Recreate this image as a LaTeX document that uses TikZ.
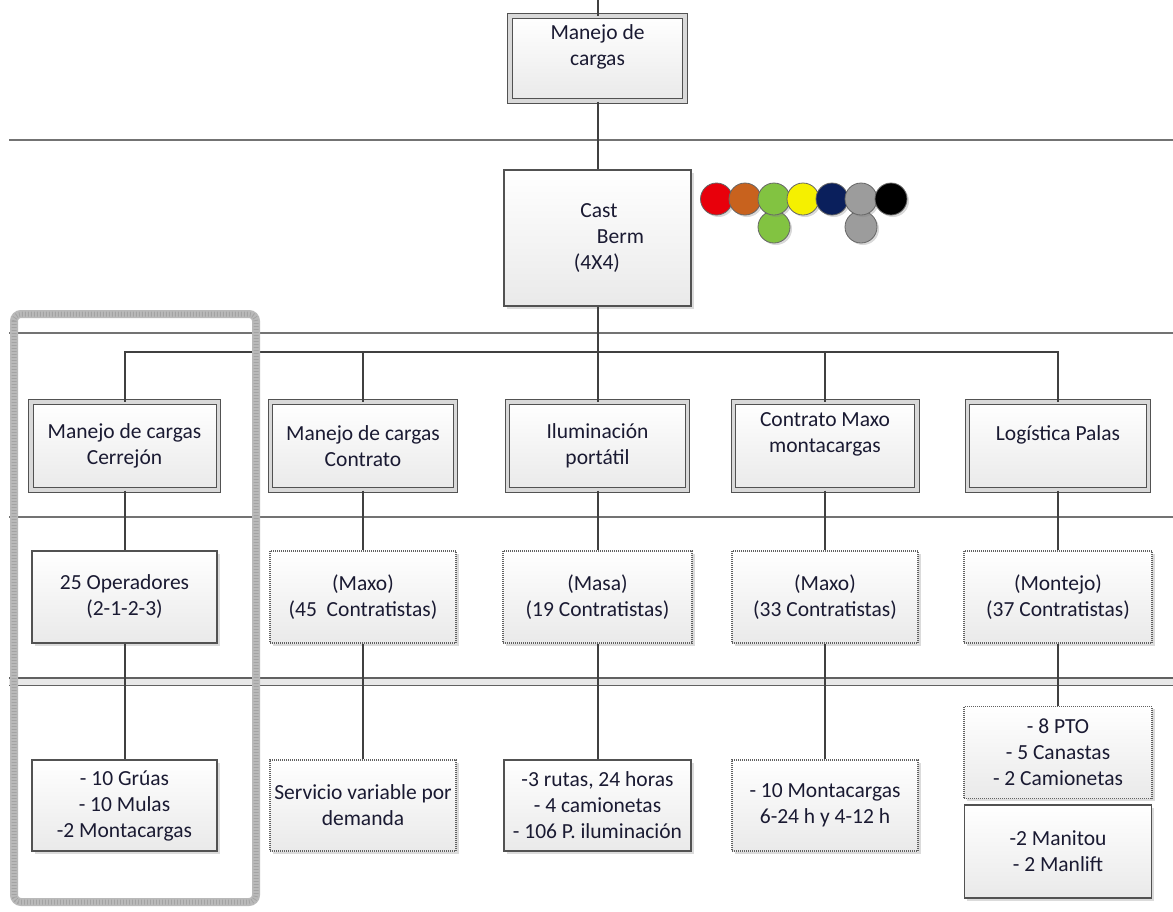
\documentclass[tikz,border=0pt]{standalone}
\usepackage{fontspec}
\setmainfont{Carlito}
\usetikzlibrary{shadows}
\definecolor{txt}{HTML}{1A1A32}
\definecolor{cred}{HTML}{E8000B}
\definecolor{corange}{HTML}{C8621E}
\definecolor{cgreen}{HTML}{82C341}
\definecolor{cyellow}{HTML}{F5F000}
\definecolor{cnavy}{HTML}{0A1F5C}
\definecolor{cgray}{HTML}{9C9C9C}
\begin{document}
\begin{tikzpicture}[x=1pt,y=-1pt,
  font=\fontsize{21.5}{26}\selectfont,
  box/.style={rectangle, align=center, text=txt, inner sep=0pt,
    top color=white, bottom color=gray!17,
    drop shadow={shadow xshift=2.5pt, shadow yshift=-2.5pt, opacity=0.35, fill=gray!80}},
  dbox/.style={box, draw=black!68, line width=1pt, double=gray!30, double distance=3.5pt},
  sbox/.style={box, draw=black!68, line width=1.4pt},
  obox/.style={box, draw=black!62, line width=1.2pt, dash pattern=on 1pt off 1pt},
  conn/.style={draw=black!75, line width=2pt},
  rule/.style={draw=black!55, line width=1.5pt},
  circ/.style={circle, draw=black!60, line width=0.8pt, minimum size=32pt, inner sep=0pt,
    drop shadow={shadow xshift=2pt, shadow yshift=-2pt, opacity=0.3, fill=gray}},
]
\useasboundingbox (0,0) rectangle (1173,911);

% horizontal level rules
\draw[rule] (9,140) -- (1173,140);
\draw[rule] (9,333) -- (1173,333);
\draw[rule] (9,517) -- (1173,517);
\draw[draw=black!62, line width=1.4pt, double=gray!18, double distance=6pt] (9,681.5) -- (1173,681.5);

% top of the tree
\node[dbox, minimum width=175pt, minimum height=85pt] (m0) at (597.5,58.5) {Manejo de\\cargas\\\mbox{}};
\node[sbox, minimum width=187pt, minimum height=136pt, align=left] (cb) at (597.5,238)
  {\hspace*{29.5pt}Cast\\\hspace*{46pt}Berm\\\hspace*{23pt}(4X4)};

% shift colour markers
\node[circ, fill=cgreen] (g2) at (774,227) {};
\node[circ, fill=cgray]  (s2) at (861,227) {};
\node[circ, fill=cred]    (c1) at (716.5,199) {};
\node[circ, fill=corange] (c2) at (745,199) {};
\node[circ, fill=cgreen]  (c3) at (774,199) {};
\node[circ, fill=cyellow] (c4) at (803,199) {};
\node[circ, fill=cnavy]   (c5) at (832,199) {};
\node[circ, fill=cgray]   (c6) at (861,199) {};
\node[circ, fill=black]   (c7) at (891,199) {};

% second level
\node[dbox, minimum width=187.5pt, minimum height=88pt] (l2a) at (124.5,446) {Manejo de cargas\\Cerrejón};
\node[dbox, minimum width=185pt, minimum height=88pt] (l2b) at (363,446) {Manejo de cargas\\Contrato};
\node[dbox, minimum width=180pt, minimum height=88pt] (l2c) at (597.5,446) {Iluminación\\portátil};
\node[dbox, minimum width=183.5pt, minimum height=88pt] (l2d) at (825,446) {Contrato Maxo\\montacargas\\\mbox{}};
\node[dbox, minimum width=181pt, minimum height=88pt] (l2e) at (1058,446) {Logística Palas\\\mbox{}};

% third level
\node[sbox, minimum width=185pt, minimum height=92pt] (l3a) at (124.5,597) {25 Operadores\\(2-1-2-3)};
\node[obox, minimum width=186pt, minimum height=92pt] (l3b) at (363,597) {(Maxo)\\(45\ \ Contratistas)};
\node[obox, minimum width=189pt, minimum height=92pt] (l3c) at (597.5,597) {(Masa)\\(19 Contratistas)};
\node[obox, minimum width=186pt, minimum height=92pt] (l3d) at (825,597) {(Maxo)\\(33 Contratistas)};
\node[obox, minimum width=188pt, minimum height=92pt] (l3e) at (1058,597) {(Montejo)\\(37 Contratistas)};

% fourth level
\node[sbox, minimum width=185pt, minimum height=91pt] (l4a) at (124.5,805.5) {- 10 Grúas\\- 10 Mulas\\-2 Montacargas};
\node[obox, minimum width=186pt, minimum height=91pt] (l4b) at (363,805.5) {Servicio variable por\\demanda};
\node[sbox, minimum width=187pt, minimum height=91pt] (l4c) at (597.5,805.5) {-3 rutas, 24 horas\\- 4 camionetas\\- 106 P. iluminación};
\node[obox, minimum width=186pt, minimum height=91pt] (l4d) at (825,805.5) {- 10 Montacargas\\6-24 h y 4-12 h};
\node[obox, minimum width=188pt, minimum height=92pt] (l4e) at (1058,752.5) {- 8 PTO\\- 5 Canastas\\- 2 Camionetas};
\node[sbox, minimum width=187pt, minimum height=93pt] (l5e) at (1058,851.5) {-2 Manitou\\- 2 Manlift};

% connectors
\coordinate (top) at (597.5,0);
\coordinate (bus) at (597.5,352);
\draw[conn] (top) -- (m0.north);
\draw[conn] (m0.south) -- (cb.north);
\draw[conn] (cb.south) -- (bus);
\draw[conn] (l2a.north) |- (bus) -| (l2e.north);
\foreach \n in {l2b,l2c,l2d}
  \draw[conn] (\n.north) -- (\n.north |- bus);
\foreach \c in {a,b,c,d,e}
  \draw[conn] (l2\c.south) -- (l3\c.north);
\foreach \c in {a,b,c,d,e}
  \draw[conn] (l3\c.south) -- (l4\c.north);

% highlight frame around the first column
\draw[gray!55, line width=8pt, rounded corners=7pt] (14,314) rectangle (256,902);
\draw[gray!72, line width=5pt, dash pattern=on 0.8pt off 2.2pt, rounded corners=7pt] (14,314) rectangle (256,902);
\end{tikzpicture}
\end{document}
